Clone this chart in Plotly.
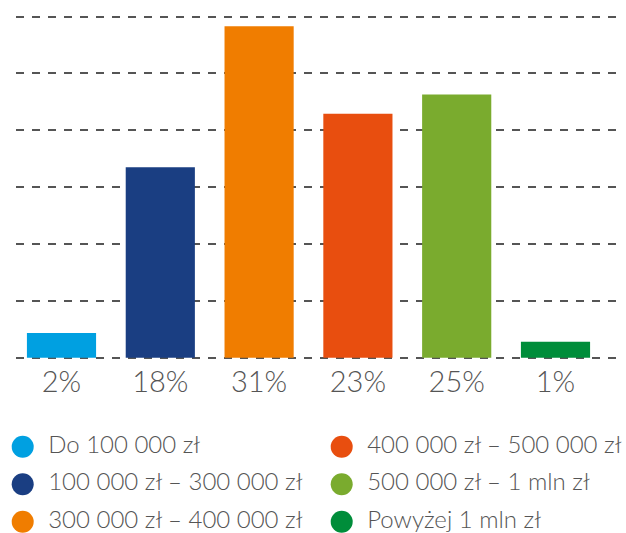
import plotly.graph_objects as go

# Data
categories = ["Do 100 000 zł", "100 000 zł – 300 000 zł", "300 000 zł – 400 000 zł",
              "400 000 zł – 500 000 zł", "500 000 zł – 1 mln zł", "Powyżej 1 mln zł"]
values = [2.3, 17.8, 31.0, 22.8, 24.6, 1.5]
value_labels = ["2%", "18%", "31%", "23%", "25%", "1%"]
colors = ["#00A0E1", "#1A3E82", "#F07D00", "#E84E0F", "#7AAB2E", "#008D3A"]

W, H = 626, 533
FONT = "Lato"
TXT = "#555555"

fig = go.Figure()

xs = list(range(len(categories)))
fig.add_trace(go.Bar(
    x=xs, y=values, marker=dict(color=colors, line=dict(width=0)),
    showlegend=False, hoverinfo="skip", xaxis="x", yaxis="y",
))

# y-axis geometry (pixels from top)
y_base_px, y_top_px = 357.7, 16.5
ymax = 31.9
step = ymax / 6
tickvals_y = [k * step for k in range(7)]
pxu = (y_base_px - y_top_px) / ymax
pad_px = 4
pad = pad_px / pxu

# x-axis geometry
x_left_px, x_right_px = 16, 622
c0_px, c5_px = 61.5, 555.5
unit = (c5_px - c0_px) / 5
xr0 = -(c0_px - x_left_px) / unit
xr1 = 5 + (x_right_px - c5_px) / unit

# custom legend (pixel coordinate overlay axis)
col_x = [22.7, 341.7]
row_y = [446.7, 484.3, 521.7]
leg_x, leg_y, leg_tx = [], [], []
for i in range(len(categories)):
    c, r = i // 3, i % 3
    leg_x.append(col_x[c])
    leg_y.append(row_y[r])
    leg_tx.append(col_x[c] + 25.5)

fig.add_trace(go.Scatter(
    x=leg_x, y=leg_y, mode="markers",
    marker=dict(size=22, color=colors, line=dict(width=0)),
    xaxis="x2", yaxis="y2", showlegend=False, hoverinfo="skip",
))
fig.add_trace(go.Scatter(
    x=leg_tx, y=leg_y, mode="text", text=categories, textposition="middle right",
    textfont=dict(family=FONT, size=24, color=TXT, weight=300),
    xaxis="x2", yaxis="y2", showlegend=False, hoverinfo="skip",
))

fig.update_layout(
    width=W, height=H,
    margin=dict(l=0, r=0, t=0, b=0),
    paper_bgcolor="white", plot_bgcolor="rgba(0,0,0,0)",
    bargap=0.3,
    showlegend=False,
    xaxis=dict(
        domain=[x_left_px / W, x_right_px / W],
        range=[xr0, xr1],
        tickmode="array", tickvals=xs, ticktext=value_labels,
        tickfont=dict(family=FONT, size=29, color=TXT, weight=300),
        showgrid=False, zeroline=False, showline=False, ticks="",
        anchor="y",
    ),
    yaxis=dict(
        domain=[(H - y_base_px - pad_px) / H, (H - y_top_px + pad_px) / H],
        range=[-pad, ymax + pad],
        tickmode="array", tickvals=tickvals_y,
        showticklabels=False, showgrid=True, gridcolor="#555555",
        gridwidth=2, griddash="8px,8px", zeroline=False, showline=False,
        anchor="x",
    ),
    xaxis2=dict(domain=[0, 1], range=[0, W], visible=False, anchor="y2"),
    yaxis2=dict(domain=[0, 1], range=[H, 0], visible=False, anchor="x2"),
)

fig.write_html("out.html")
